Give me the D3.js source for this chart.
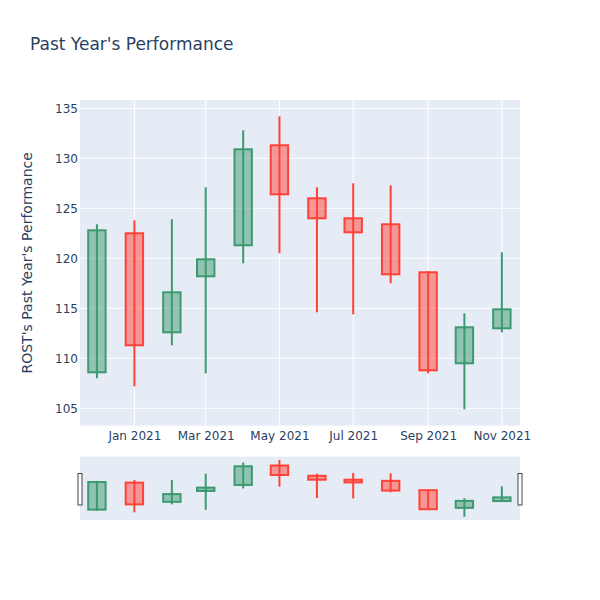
<!DOCTYPE html>
<html>
<head>
<meta charset="utf-8">
<script src="https://cdn.jsdelivr.net/npm/d3@7"></script>
<style>
  body { margin: 0; background: #fff; }
  text { font-family: "DejaVu Sans", verdana, arial, sans-serif; fill: #2a3f5f; }
</style>
</head>
<body>
<div id="chart"></div>
<script>
// Plot constants
const WIDTH = 600;
const HEIGHT = 600;
const FONT = "'DejaVu Sans', verdana, arial, sans-serif";

// Monthly candles (ROST)
const months = ["2020-12-01", "2021-01-01", "2021-02-01", "2021-03-01", "2021-04-01", "2021-05-01",
  "2021-06-01", "2021-07-01", "2021-08-01", "2021-09-01", "2021-10-01", "2021-11-01"];
const opens  = [108.6, 122.5, 112.6, 118.2, 121.3, 131.3, 126.0, 124.0, 123.4, 118.6, 109.5, 113.0];
const highs  = [123.4, 123.8, 123.9, 127.1, 132.8, 134.2, 127.1, 127.5, 127.3, 118.7, 114.5, 120.6];
const lows   = [108.0, 107.2, 111.3, 108.5, 119.5, 120.5, 114.6, 114.4, 117.5, 108.5, 104.9, 112.6];
const closes = [122.8, 111.3, 116.6, 119.9, 130.9, 126.4, 124.0, 122.6, 118.4, 108.8, 113.1, 114.9];

const yTicks = [105, 110, 115, 120, 125, 130, 135];
const xTicks = ["2021-01-01", "2021-03-01", "2021-05-01", "2021-07-01", "2021-09-01", "2021-11-01"];

const INC = "#3D9970", DEC = "#FF4136";

const parse = d3.utcParse("%Y-%m-%d");
const data = months.map((m, i) => ({
  date: parse(m), open: opens[i], high: highs[i], low: lows[i], close: closes[i]
}));

const margin = {left: 80, right: 80, top: 100};
const plotH = 325.7;
const slider = {top: 456.7, height: 63.3};

const svg = d3.select("#chart").append("svg")
  .attr("width", WIDTH).attr("height", HEIGHT);

const x = d3.scaleUtc()
  .domain([parse("2020-11-17"), parse("2021-11-16")])
  .range([margin.left, WIDTH - margin.right]);
const y = d3.scaleLinear()
  .domain([103.26, 135.83])
  .range([margin.top + plotH, margin.top]);
const ys = d3.scaleLinear()
  .domain(y.domain())
  .range([slider.top + slider.height, slider.top]);

// Plot background
svg.append("rect")
  .attr("x", margin.left).attr("y", margin.top)
  .attr("width", WIDTH - margin.left - margin.right).attr("height", plotH)
  .attr("fill", "#E5ECF6");

// Grid
const grid = svg.append("g");
grid.selectAll(".gy").data(yTicks).join("line")
  .attr("x1", margin.left).attr("x2", WIDTH - margin.right)
  .attr("y1", d => y(d)).attr("y2", d => y(d))
  .attr("stroke", "#fff").attr("stroke-width", 1);
grid.selectAll(".gx").data(xTicks.map(parse)).join("line")
  .attr("x1", d => x(d)).attr("x2", d => x(d))
  .attr("y1", margin.top).attr("y2", margin.top + plotH)
  .attr("stroke", "#fff").attr("stroke-width", 1);

// Axes
const yAxis = d3.axisLeft(y).tickValues(yTicks).tickSize(0).tickPadding(2);
svg.append("g")
  .attr("transform", `translate(${margin.left},0)`)
  .call(yAxis)
  .call(g => g.select(".domain").remove())
  .call(g => g.selectAll("text").attr("font-size", 12).style("fill", "#2a3f5f")
    .attr("font-family", FONT));

const xAxis = d3.axisBottom(x).tickValues(xTicks.map(parse))
  .tickFormat(d3.utcFormat("%b %Y")).tickSize(0).tickPadding(6);
svg.append("g")
  .attr("transform", `translate(0,${margin.top + plotH})`)
  .call(xAxis)
  .call(g => g.select(".domain").remove())
  .call(g => g.selectAll("text").attr("font-size", 12).style("fill", "#2a3f5f")
    .attr("font-family", FONT));

// Candles
const boxW = 17.4;
function drawCandles(g, yScale) {
  const c = g.selectAll("g.candle").data(data).join("g").attr("class", "candle");
  c.append("line")
    .attr("x1", d => x(d.date)).attr("x2", d => x(d.date))
    .attr("y1", d => yScale(d.high)).attr("y2", d => yScale(d.low))
    .attr("stroke", d => d.close >= d.open ? INC : DEC)
    .attr("stroke-width", 2);
  c.append("rect")
    .attr("x", d => x(d.date) - boxW / 2)
    .attr("y", d => yScale(Math.max(d.open, d.close)))
    .attr("width", boxW)
    .attr("height", d => Math.abs(yScale(d.open) - yScale(d.close)))
    .attr("fill", d => d.close >= d.open ? INC : DEC)
    .attr("fill-opacity", 0.5)
    .attr("stroke", d => d.close >= d.open ? INC : DEC)
    .attr("stroke-width", 2);
}

drawCandles(svg.append("g"), y);

// Range slider
svg.append("rect")
  .attr("x", margin.left).attr("y", slider.top)
  .attr("width", WIDTH - margin.left - margin.right).attr("height", slider.height)
  .attr("fill", "#E5ECF6");
drawCandles(svg.append("g"), ys);

[margin.left, WIDTH - margin.right].forEach(hx => {
  svg.append("rect")
    .attr("x", hx - 2).attr("y", 473.5)
    .attr("width", 4).attr("height", 31.5)
    .attr("fill", "#fff").attr("stroke", "#444").attr("stroke-width", 1);
});

// Titles
svg.append("text")
  .attr("x", 30).attr("y", 50)
  .attr("font-size", 17)
  .text("Past Year's Performance");

svg.append("text")
  .attr("transform", `translate(32,${margin.top + plotH / 2}) rotate(-90)`)
  .attr("text-anchor", "middle")
  .attr("font-size", 14)
  .text("ROST's Past Year's Performance");
</script>
</body>
</html>
